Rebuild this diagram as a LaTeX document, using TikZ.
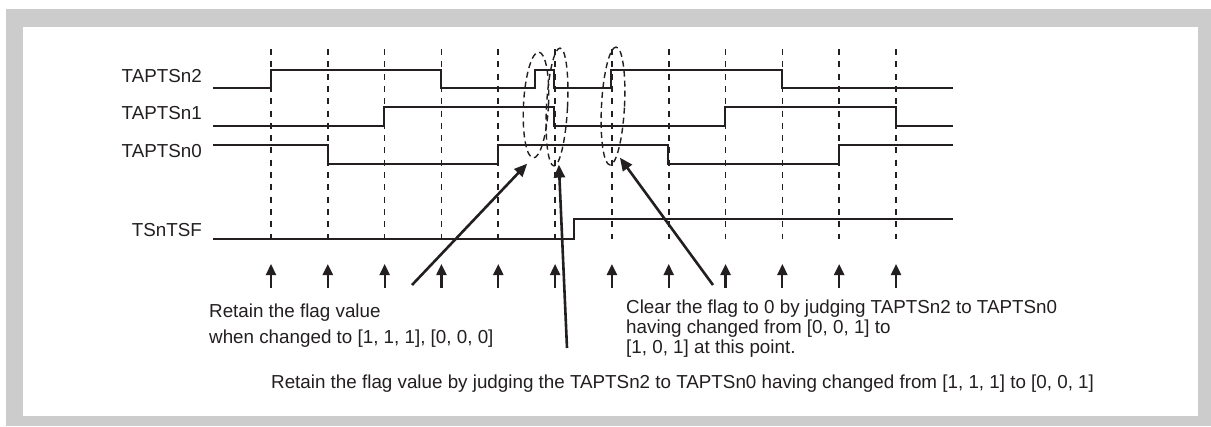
\documentclass[tikz,border=0pt]{standalone}
\usepackage{fontspec}
\setmainfont{Liberation Sans}
\usetikzlibrary{arrows.meta,shapes.geometric}
\definecolor{framegray}{HTML}{CCCCCC}
\definecolor{ink}{HTML}{231F20}

\begin{document}
\begin{tikzpicture}[x=1pt, y=-1pt,
  sig/.style={line width=1.8pt, ink},
  gridline/.style={line width=1.7pt, dash pattern=on 6pt off 6.3pt, ink},
  clk/.style={-{Triangle[length=11pt, width=10pt]}, line width=2.2pt, ink},
  ptr/.style={-{Triangle[length=13pt, width=11pt]}, line width=2.6pt, ink},
  ring/.style={ellipse, draw, line width=1.4pt, dash pattern=on 6pt off 4pt, inner sep=0pt, ink},
  lbl/.style={font=\fontsize{18.8}{20}\selectfont, inner sep=0pt, text=ink}
]
  \useasboundingbox (0,0) rectangle (1211,426);
  \fill[framegray] (6,9) rectangle (1211,426);
  \fill[white] (23,27) rectangle (1198,416);

  \foreach \i in {0,...,11} {
    \draw[gridline] ({271+56.82*\i},49) -- ({271+56.82*\i},239);
    \draw[clk] ({271+56.82*\i},288) -- ({271+56.82*\i},264);
  }

  \node[lbl, anchor=base east] (lbl2) at (202,82) {TAPTSn2};
  \node[lbl, anchor=base east] (lbl1) at (202,119) {TAPTSn1};
  \node[lbl, anchor=base east] (lbl0) at (202,157) {TAPTSn0};
  \node[lbl, anchor=base east] (lbltsf) at (202,236) {TSnTSF};

  \draw[sig] (213,88) -- (271,88) -- (271,70) -- (441,70) -- (441,88) -- (535,88) -- (535,70)
    -- (554,70) -- (554,88) -- (611,88) -- (611,70) -- (782,70) -- (782,88) -- (953,88);
  \draw[sig] (213,126) -- (384,126) -- (384,107) -- (554,107) -- (554,126) -- (725,126)
    -- (725,107) -- (896,107) -- (896,126) -- (953,126);
  \draw[sig] (213,145) -- (328,145) -- (328,164) -- (498,164) -- (498,145) -- (668,145)
    -- (668,164) -- (839,164) -- (839,145) -- (953,145);
  \draw[sig] (213,239) -- (574,239) -- (574,219) -- (953,219);

  \node[ring, minimum width=25pt, minimum height=106pt, rotate=-3] (e1) at (536,105) {};
  \node[ring, minimum width=21pt, minimum height=118pt, rotate=-3] (e2) at (557,107) {};
  \node[ring, minimum width=23pt, minimum height=118pt, rotate=-3] (e3) at (613,106) {};

  \coordinate (p1) at (412,285);
  \coordinate (p2) at (567,348);
  \coordinate (p3) at (713,285);
  \draw[ptr] (p1) -- ([shift={(-6,5)}]e1.south);
  \draw[ptr] (p2) -- ([shift={(5,-2)}]e2.south);
  \draw[ptr] (p3) -- ([shift={(10,-8)}]e3.south);

  \node[lbl, anchor=base west] (note1a) at (209,317) {Retain the flag value};
  \node[lbl, anchor=base west] (note1b) at (209,343) {when changed to [1, 1, 1], [0, 0, 0]};
  \node[lbl, anchor=base west] (note3a) at (626,313) {Clear the flag to 0 by judging TAPTSn2 to TAPTSn0};
  \node[lbl, anchor=base west] (note3b) at (626,333) {having changed from [0, 0, 1] to};
  \node[lbl, anchor=base west] (note3c) at (626,353) {[1, 0, 1] at this point.};
  \node[lbl, anchor=base west] (note2) at (271,388) {Retain the flag value by judging the TAPTSn2 to TAPTSn0 having changed from [1, 1, 1] to [0, 0, 1]};
\end{tikzpicture}
\end{document}
